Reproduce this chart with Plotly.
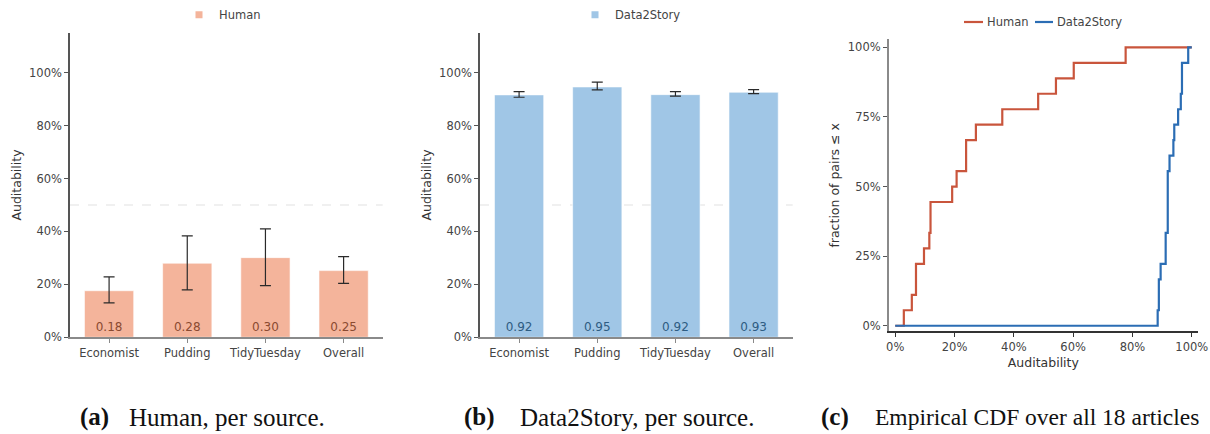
import plotly.graph_objects as go

W, H = 1210, 434

# ---------------- data ----------------
sources = ["Economist", "Pudding", "TidyTuesday", "Overall"]

human_mean = [0.176, 0.280, 0.301, 0.252]
human_hi = [0.228, 0.383, 0.410, 0.305]
human_lo = [0.130, 0.179, 0.195, 0.204]

d2s_mean = [0.916, 0.946, 0.917, 0.926]
d2s_hi = [0.928, 0.964, 0.928, 0.936]
d2s_lo = [0.907, 0.935, 0.911, 0.921]

# per-article auditability (18 articles)
human_articles = [0.029, 0.056, 0.070, 0.070, 0.097, 0.115, 0.119, 0.119, 0.192,
                  0.207, 0.239, 0.239, 0.272, 0.361, 0.482, 0.542, 0.602, 0.777]
d2s_articles = [0.885, 0.889, 0.889, 0.895, 0.912, 0.912, 0.919, 0.919, 0.919,
                0.919, 0.925, 0.938, 0.941, 0.954, 0.963, 0.967, 0.967, 0.988]

pct_ticks_bar = [0, 0.2, 0.4, 0.6, 0.8, 1.0]
pct_ticks_cdf_x = [0, 0.2, 0.4, 0.6, 0.8, 1.0]
pct_ticks_cdf_y = [0, 0.25, 0.5, 0.75, 1.0]

series_names = ["Human", "Data2Story"]

captions = [("(a)", "Human, per source."),
            ("(b)", "Data2Story, per source."),
            ("(c)", "Empirical CDF over all 18 articles")]

# ---------------- style ----------------
FONT = "DejaVu Sans"
TXT = "#444444"
HUMAN_BAR = "#f4b49b"
D2S_BAR = "#a0c6e6"
HUMAN_LBL = "#8a4a31"
D2S_LBL = "#2e5c82"
HUMAN_LINE = "#c9553c"
D2S_LINE = "#2b6db4"


def px_x(p):
    return p / W


def px_y(p):
    return 1 - p / H


def ecdf(vals):
    xs = [0.0] + sorted(vals) + [1.0]
    n = len(vals)
    ys = [0.0] + [(i + 1) / n for i in range(n)] + [1.0]
    return xs, ys


fig = go.Figure()


def add_bars(vals, hi, lo, color, lblcolor, xa, ya):
    fig.add_trace(go.Bar(
        x=sources, y=vals, xaxis=xa, yaxis=ya,
        marker=dict(color=color, line=dict(color="rgba(255,255,255,0.6)", width=1)),
        error_y=dict(type="data", symmetric=False,
                     array=[h - v for h, v in zip(hi, vals)],
                     arrayminus=[v - l for v, l in zip(vals, lo)],
                     color="#2a2a2a", thickness=1.2, width=5.5),
        texttemplate="%{y:.2f}", textposition="inside", insidetextanchor="start",
        textangle=0, textfont=dict(family=FONT, size=12, color=lblcolor),
        showlegend=False, hoverinfo="skip"))


add_bars(human_mean, human_hi, human_lo, HUMAN_BAR, HUMAN_LBL, "x", "y")
add_bars(d2s_mean, d2s_hi, d2s_lo, D2S_BAR, D2S_LBL, "x2", "y2")

# legend proxies for bar panels
fig.add_trace(go.Scatter(x=[None], y=[None], mode="markers", name=series_names[0],
                         marker=dict(symbol="square", size=7, color=HUMAN_BAR),
                         xaxis="x", yaxis="y", legend="legend"))
fig.add_trace(go.Scatter(x=[None], y=[None], mode="markers", name=series_names[1],
                         marker=dict(symbol="square", size=7, color=D2S_BAR),
                         xaxis="x2", yaxis="y2", legend="legend2"))

# CDF panel
hx, hy = ecdf(human_articles)
dx, dy = ecdf(d2s_articles)
fig.add_trace(go.Scatter(x=hx, y=hy, mode="lines", line=dict(shape="hv", color=HUMAN_LINE, width=2.2),
                         name=series_names[0], xaxis="x3", yaxis="y3", showlegend=False, hoverinfo="skip"))
fig.add_trace(go.Scatter(x=dx, y=dy, mode="lines", line=dict(shape="hv", color=D2S_LINE, width=2.2),
                         name=series_names[1], xaxis="x3", yaxis="y3", showlegend=False, hoverinfo="skip"))

tickfont = dict(family=FONT, size=11.5, color=TXT)
titlefont = dict(family=FONT, size=12.5, color="#333333")

bar_y_dom = [px_y(337.3), px_y(32.7)]


def bar_axes(xdom, ydom):
    xa = dict(domain=xdom, anchor=None, range=[-0.5, 3.5], showline=True, linecolor="#8a8a8a",
              linewidth=1.8, ticks="outside", ticklen=4, tickcolor="#8a8a8a", tickwidth=1,
              showgrid=False, zeroline=False, tickfont=tickfont, fixedrange=True, automargin=False)
    ya = dict(domain=ydom, range=[0, 1.151], tickvals=pct_ticks_bar, tickformat=".0%",
              showline=True, linecolor="#555555", linewidth=1.5, ticks="outside", ticklen=4,
              tickcolor="#555555", tickwidth=1, showgrid=False, zeroline=False, automargin=False,
              tickfont=tickfont, title=dict(text="Auditability", font=titlefont, standoff=5))
    return xa, ya


xa1, ya1 = bar_axes([px_x(70), px_x(382.7)], bar_y_dom)
xa1["anchor"] = "y"
ya1["anchor"] = "x"
xa2, ya2 = bar_axes([px_x(480), px_x(792.7)], bar_y_dom)
xa2["anchor"] = "y2"
ya2["anchor"] = "x2"

xa3 = dict(domain=[px_x(889), px_x(1197.7)], anchor="y3", range=[-0.021, 1.02],
           tickvals=pct_ticks_cdf_x, tickformat=".0%", showline=True, linecolor="#333333",
           linewidth=1.5, ticks="outside", ticklen=4, tickcolor="#333333", showgrid=False,
           zeroline=False, tickfont=tickfont, automargin=False,
           title=dict(text="Auditability", font=titlefont, standoff=5))
ya3 = dict(domain=[px_y(331.3), px_y(39.3)], anchor="x3", range=[-0.02, 1.029],
           tickvals=pct_ticks_cdf_y, tickformat=".0%", showline=True, linecolor="#8a8a8a",
           linewidth=2, ticks="outside", ticklen=4, tickcolor="#555555", showgrid=False,
           zeroline=False, tickfont=tickfont, automargin=False,
           title=dict(text="fraction of pairs ≤ x", font=titlefont, standoff=5))

legfont = dict(family=FONT, size=11.5, color=TXT)

annotations = []
shapes = []

# captions (the last one is slightly smaller so it stays inside the page)
cap_pos = [(78, 127, 25), (462, 518, 25), (819, 873, 23.5)]
for (lab, txt), (xl, xt, fs) in zip(captions, cap_pos):
    annotations.append(dict(text="<b>" + lab + "</b>", x=px_x(xl), y=px_y(417), xref="paper", yref="paper",
                            xanchor="left", yanchor="middle", showarrow=False,
                            font=dict(family="Liberation Serif", size=25, color="#111111")))
    annotations.append(dict(text=txt, x=px_x(xt), y=px_y(417), xref="paper", yref="paper",
                            xanchor="left", yanchor="middle", showarrow=False,
                            font=dict(family="Liberation Serif", size=fs, color="#111111")))

# compact line legend for the CDF panel
leg_items = [(series_names[0], HUMAN_LINE, 964, 983, 985), (series_names[1], D2S_LINE, 1035, 1053, 1055)]
for name, col, x0, x1, xt in leg_items:
    shapes.append(dict(type="line", xref="paper", yref="paper", x0=px_x(x0), x1=px_x(x1),
                       y0=px_y(22), y1=px_y(22), line=dict(color=col, width=2.2)))
    annotations.append(dict(text=name, x=px_x(xt), y=px_y(22), xref="paper", yref="paper",
                            xanchor="left", yanchor="middle", showarrow=False, font=legfont))

for xr, yr in (("x", "y"), ("x2", "y2")):
    shapes.append(dict(type="line", xref=xr + " domain", yref=yr, x0=0, x1=1, y0=0.5, y1=0.5,
                       line=dict(color="#e2e2e2", width=1.2, dash="dash"), layer="below"))

fig.update_layout(
    width=W, height=H, autosize=False, margin=dict(l=0, r=0, t=0, b=0, pad=0, autoexpand=False),
    paper_bgcolor="white", plot_bgcolor="white",
    bargap=0.37,
    font=dict(family=FONT, color=TXT),
    xaxis=xa1, yaxis=ya1, xaxis2=xa2, yaxis2=ya2, xaxis3=xa3, yaxis3=ya3,
    legend=dict(orientation="h", x=px_x(179), y=px_y(14.7), xanchor="left", yanchor="middle",
                font=legfont, bgcolor="rgba(0,0,0,0)"),
    legend2=dict(orientation="h", x=px_x(575), y=px_y(14.7), xanchor="left", yanchor="middle",
                 font=legfont, bgcolor="rgba(0,0,0,0)"),
    annotations=annotations, shapes=shapes,
)

post = ("document.documentElement.style.cssText='margin:0;padding:0;overflow:hidden;width:1210px;height:434px;';"
        "document.body.style.cssText='margin:0;padding:0;overflow:hidden;width:1210px;height:434px;';"
        "var g=document.getElementById('{plot_id}');"
        "g.style.position='absolute';g.style.left='0px';g.style.top='0px';")

fig.write_html("out.html", config={"displayModeBar": False, "responsive": False}, post_script=post)
